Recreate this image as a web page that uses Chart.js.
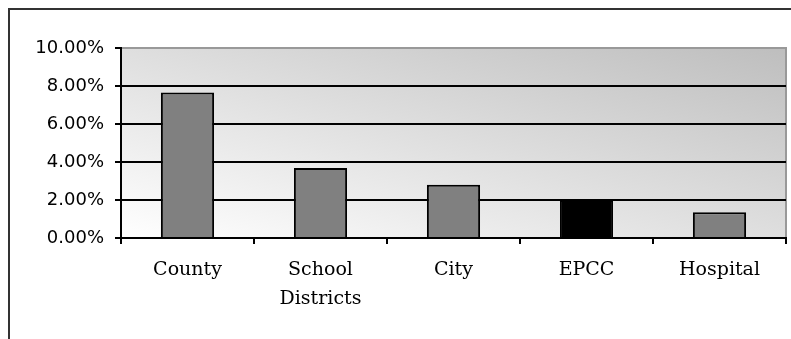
<!DOCTYPE html>
<html>
<head>
<meta charset="utf-8">
<script src="https://cdn.jsdelivr.net/npm/chart.js@4/dist/chart.umd.min.js"></script>
<style>
	html, body { margin: 0; padding: 0; background: #fff; overflow: hidden; }
	#wrap { position: relative; width: 791px; height: 339px; }
	#frame {
		position: absolute; left: 8px; top: 8px; width: 800px; height: 400px;
		border-top: 2px solid #333; border-left: 2px solid #333; pointer-events: none;
	}
</style>
</head>
<body>
<div id="wrap">
	<canvas id="chart" width="791" height="339"></canvas>
	<div id="frame"></div>
</div>
<script>
	// values, in percent
	let categories = ["County", ["School", "Districts"], "City", "EPCC", "Hospital"];
	let shares = [7.66, 3.68, 2.8, 2.0, 1.36];
	let barColors = ["#808080", "#808080", "#808080", "#000000", "#808080"];
	let yTicks = [0, 2, 4, 6, 8, 10];

	// grey diagonal fill behind the bars, like the old office chart
	let plotBack = {
		id: "plotBack",
		beforeDraw(chart) {
			let a = chart.chartArea;
			let ctx = chart.ctx;
			ctx.save();
			ctx.translate(a.left, a.top);
			ctx.scale(a.right - a.left, a.bottom - a.top);
			let g = ctx.createLinearGradient(0, 1, 1, 0);
			g.addColorStop(0, "#ffffff");
			g.addColorStop(1, "#bebebe");
			ctx.fillStyle = g;
			ctx.fillRect(0, 0, 1, 1);
			ctx.restore();
			ctx.save();
			ctx.strokeStyle = "#999";
			ctx.lineWidth = 2;
			ctx.strokeRect(a.left, a.top, a.right - a.left, a.bottom - a.top);
			ctx.restore();
		}
	};

	let chart = new Chart(document.getElementById("chart"), {
		type: "bar",
		data: {
			labels: categories,
			datasets: [{
				data: shares,
				backgroundColor: barColors,
				borderColor: "#000",
				borderWidth: 2,
				barPercentage: 0.4,
				categoryPercentage: 1
			}]
		},
		options: {
			responsive: false,
			animation: false,
			layout: { padding: { top: 48, right: 5, bottom: 0, left: 0 } },
			plugins: { legend: { display: false }, tooltip: { enabled: false } },
			scales: {
				x: {
					afterFit: function (axis) { axis.height = 101; },
					border: { color: "#000", width: 2 },
					grid: { offset: true, drawOnChartArea: false, drawTicks: true, tickLength: 6, color: "#000", lineWidth: 2 },
					ticks: {
						color: "#000",
						padding: 12,
						maxRotation: 0,
						font: { family: "DejaVu Serif", size: 19, lineHeight: 1.5 }
					}
				},
				y: {
					min: 0,
					max: 10,
					afterFit: function (axis) { axis.width = 121; },
					afterBuildTicks: function (axis) { axis.ticks = yTicks.map(v => ({ value: v })); },
					border: { color: "#000", width: 2 },
					grid: {
						color: c => c.tick && c.tick.value === 10 ? "#999" : "#000",
						tickColor: "#000",
						lineWidth: 2,
						tickLength: 6
					},
					ticks: {
						color: "#000",
						padding: 11,
						font: { family: "DejaVu Sans", size: 18 },
						callback: v => v.toFixed(2) + "%"
					}
				}
			}
		},
		plugins: [plotBack]
	});
</script>
</body>
</html>
